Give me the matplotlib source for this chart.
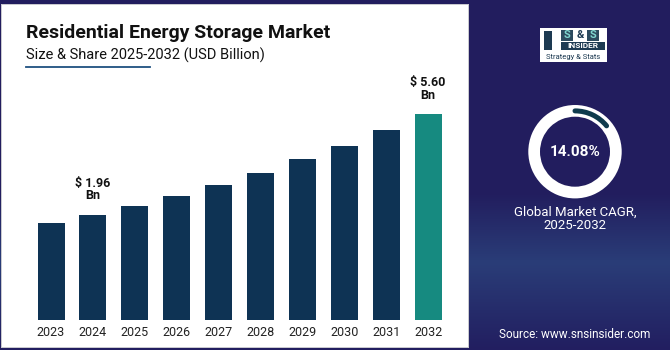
import numpy as np
import matplotlib
matplotlib.use("Agg")
import matplotlib.pyplot as plt
from matplotlib.patches import Rectangle, Wedge, Arc

plt.rcParams['font.family'] = ['Roboto', 'DejaVu Sans']

# ---- data ----
years = ["2023", "2024", "2025", "2026", "2027", "2028", "2029", "2030", "2031", "2032"]
values = [1.65, 1.96, 2.28, 2.64, 3.03, 3.46, 3.97, 4.44, 5.02, 5.60]
labels = {1: "$ 1.96\nBn", 9: "$ 5.60\nBn"}
cagr = 14.08
title = "Residential Energy Storage Market"
subtitle = "Size & Share 2025-2032 (USD Billion)"
cagr_label = "Global Market CAGR,\n2025-2032"
source = "Source: www.snsinsider.com"

W, H = 670, 350
fig = plt.figure(figsize=(W / 100, H / 100), dpi=100)

def fx(px):
    return px / W

def fy(py):
    return 1 - py / H

# ---- background gradient (navy) ----
bg = fig.add_axes([0, 0, 1, 1])
bg.set_axis_off()
top = np.array([0x22, 0x1d, 0x5e]) / 255
mid = np.array([0x2a, 0x3d, 0x78]) / 255
bot = np.array([0x22, 0x1e, 0x60]) / 255
n = 350
grad = np.zeros((n, 1, 3))
for i in range(n):
    t = i / (n - 1)
    if t < 0.55:
        c = top
    elif t < 0.75:
        s = (t - 0.55) / 0.2
        c = top * (1 - s) + mid * s
    else:
        s = (t - 0.75) / 0.25
        c = mid * (1 - s) + bot * s
    grad[i, 0] = c
bg.imshow(grad, aspect='auto', extent=[0, 1, 0, 1], origin='upper')
bg.set_xlim(0, 1)
bg.set_ylim(0, 1)
# white panel
bg.add_patch(Rectangle((fx(1), fy(348)), fx(469) - fx(1), fy(4) - fy(348),
                       facecolor='#c9c9cf', edgecolor='none', transform=bg.transAxes))
bg.add_patch(Rectangle((fx(2), fy(347)), fx(468) - fx(2), fy(5) - fy(347),
                       facecolor='white', edgecolor='none', transform=bg.transAxes))

# ---- titles ----
fig.text(fx(26), fy(37.7), title, fontsize=14, fontweight='bold', color='#111111', va='baseline')
fig.text(fx(26), fy(59.5), subtitle, fontsize=10.5, color='#111111', va='baseline')
bg.plot([fx(26), fx(150)], [fy(67), fy(67)], color='#1f5080', lw=1.3, transform=bg.transAxes)

# ---- bar chart ----
spacing = 41.9
x0 = 51
xlo, xhi = -0.75, 9.75
left_px = x0 + xlo * spacing
ax = fig.add_axes([fx(left_px), fy(320), (xhi - xlo) * spacing / W, (320 - 60) / H])
ax.patch.set_alpha(0)
pxu = 27.66
base = -51.1 / pxu
ax.set_xlim(xlo, xhi)
ax.set_ylim(base, base + 260 / pxu)
x = np.arange(len(years))
colors = ['#0e3354'] * (len(years) - 1) + ['#168a80']
vals = np.array(values)
ax.bar(x, vals - base, bottom=base, width=27 / spacing, color=colors)
for i, lab in labels.items():
    ax.annotate(lab, (x[i], vals[i]), xytext=(0, 9), textcoords='offset points',
                ha='center', va='bottom', fontsize=9, fontweight='bold',
                color='#111111', linespacing=0.95)
ax.set_xticks(x)
ax.set_xticklabels(years, fontsize=9, color='#222222')
ax.tick_params(axis='x', length=0, pad=4.5)
ax.set_yticks([])
for s in ax.spines.values():
    s.set_visible(False)

# ---- logo ----
bg.add_patch(Rectangle((fx(540), fy(62)), fx(607) - fx(540), fy(28) - fy(62),
                       facecolor='white', edgecolor='none', transform=bg.transAxes))
bg.add_patch(Rectangle((fx(544), fy(50)), fx(552) - fx(544), fy(31) - fy(50),
                       facecolor='#1d3a52', edgecolor='none', transform=bg.transAxes))
for k, ch in enumerate(["S", "&", "S"]):
    cx = 567 + k * 13
    if ch == "S":
        bg.add_patch(Rectangle((fx(cx - 6), fy(41)), fx(12), fy(30) - fy(41),
                               facecolor='#2c4a5e', edgecolor='none', transform=bg.transAxes))
        fig.text(fx(cx), fy(35.5), ch, fontsize=8, fontweight='bold', color='#7fd6cf',
                 ha='center', va='center')
    else:
        fig.text(fx(cx), fy(35.5), ch, fontsize=8, fontweight='bold', color='#1d3a52',
                 ha='center', va='center')
bg.add_patch(Rectangle((fx(561), fy(50)), fx(605) - fx(561), fy(42) - fy(50),
                       facecolor='#1d3a52', edgecolor='none', transform=bg.transAxes))
fig.text(fx(583), fy(46), "INSIDER", fontsize=6, fontweight='bold', color='white',
         ha='center', va='center')
fig.text(fx(573.5), fy(56.5), "Strategy & Stats", fontsize=5.5, color='#1d3a52',
         ha='center', va='center')

# ---- donut ----
cx, cy = 575, 151.7
size = 120
dax = fig.add_axes([fx(cx - size / 2), fy(cy + size / 2), size / W, size / H])
dax.set_xlim(-size / 2, size / 2)
dax.set_ylim(-size / 2, size / 2)
dax.set_axis_off()
dax.add_patch(Wedge((0, 0), 46.7, 0, 360, width=11.7, facecolor='white', edgecolor='none'))
arc_lw = 5 * 72 / 100
dax.add_patch(Arc((0, 0), 2 * 40.8, 2 * 40.8, theta1=90 - 360 * cagr / 100, theta2=90,
                  color='#0f3b4d', lw=arc_lw, capstyle='round'))
dax.text(0, 0, f"{cagr:.2f}%", fontsize=11, fontweight='bold', color='white',
         ha='center', va='center')

fig.text(fx(575), fy(219), cagr_label, fontsize=9.5, color='white', ha='center',
         va='center', linespacing=1.05)
fig.text(fx(575), fy(334), source, fontsize=8.5, color='white', ha='center', va='center')

fig.savefig("out.png", dpi=100)
